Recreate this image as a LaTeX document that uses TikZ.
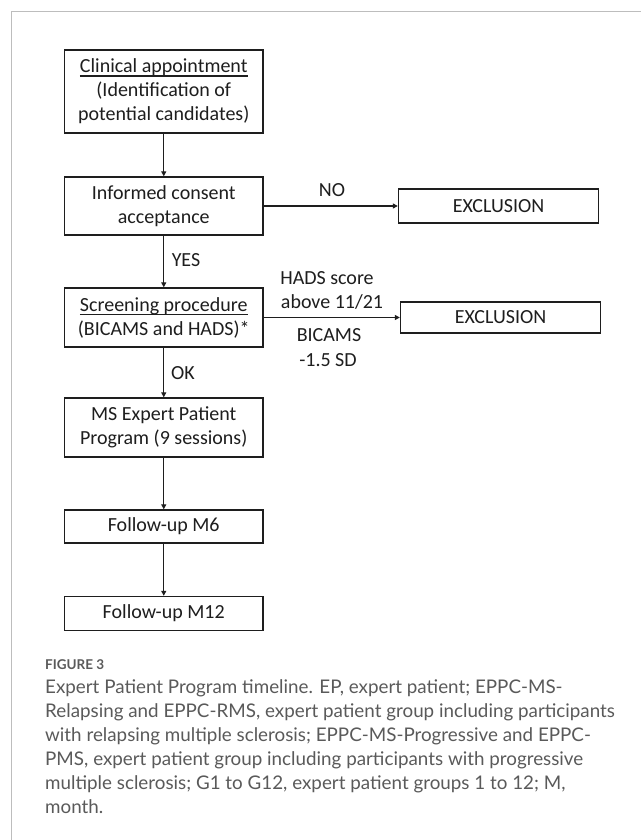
\documentclass[tikz,border=0pt]{standalone}
\usepackage{fontspec}
\setmainfont{Carlito}
\newfontfamily\capfont{Lato}
\usetikzlibrary{arrows.meta}
\definecolor{ink}{HTML}{1E1E1E}
\definecolor{capgray}{HTML}{5A5A5A}
\definecolor{framegray}{HTML}{BDBDBD}
\newcommand\thickul[1]{\setbox0\hbox{#1}\rlap{\raisebox{-4.2pt}{\rule{\wd0}{1.7pt}}}\box0}
\tikzset{
  flowbox/.style={draw=ink, line width=1.4pt, inner sep=0pt, minimum width=198.5pt, align=center, text=ink, font=\fontsize{20}{24}\selectfont},
  exbox/.style={draw=ink, line width=1.4pt, inner sep=0pt, minimum width=200pt, text=ink, font=\fontsize{20}{24}\selectfont},
  lbl/.style={inner sep=0pt, text=ink, align=center, font=\fontsize{20}{24}\selectfont},
  conn/.style={draw=ink, line width=1.2pt, -{Triangle[length=5pt,width=5pt]}},
  capline/.style={inner sep=0pt, anchor=base west, text=capgray, font=\capfont\fontsize{18.8}{24}\selectfont}
}
\begin{document}
\begin{tikzpicture}[x=1pt,y=-1pt]
\useasboundingbox (0,0) rectangle (641,840);
\fill[white] (0,0) rectangle (641,840);
\draw[framegray, line width=1pt] (11,840) -- (11,11.5) -- (641,11.5);
% boxes
\node[flowbox, minimum height=83pt] (b1) at (163.75,91.5) {\thickul{Clinical appointment}\\(Identification of\\potential candidates)};
\node[flowbox, minimum height=58pt] (b2) at (163.75,206) {Informed consent\\acceptance};
\node[exbox, minimum height=34pt] (e1) at (498.5,206) {EXCLUSION};
\node[flowbox, minimum height=59pt] (b3) at (163.75,317.5) {\thickul{Screening procedure}\\(BICAMS and HADS)*};
\node[exbox, minimum height=31pt] (e2) at (500.5,317.5) {EXCLUSION};
\node[flowbox, minimum height=59pt] (b4) at (163.75,427.5) {MS Expert Patient\\Program (9 sessions)};
\node[flowbox, minimum height=33pt] (b5) at (163.75,526.5) {Follow-up M6};
\node[flowbox, minimum height=34pt] (b6) at (163.75,613.5) {Follow-up M12};
% connectors
\draw[conn] (b1) -- (b2);
\draw[conn] (b2) -- (b3);
\draw[conn] (b3) -- (b4);
\draw[conn] (b4) -- (b5);
\draw[conn] (b5) -- (b6);
\draw[conn] (b2) -- (e1);
\draw[conn] (b3) -- (e2);
% labels
\node[lbl] (no) at (332,190) {NO};
\node[lbl] (yes) at (186,260) {YES};
\node[lbl] (ok) at (183,373) {OK};
\node[lbl] (hads1) at (327,278) {HADS score};
\node[lbl] (hads2) at (332,302) {above 11/21};
\node[lbl] (bic1) at (329,335) {BICAMS};
\node[lbl] (bic2) at (328,360) {-1.5 SD};
% caption
\node[inner sep=0pt, anchor=base west, text=capgray, font=\capfont\bfseries\fontsize{13.5}{16}\selectfont] (figlbl) at (45,669) {FIGURE 3};
\node[capline] (c1) at (45,693) {Expert Patient Program timeline. EP, expert patient; EPPC-MS-};
\node[capline] (c2) at (45,717) {Relapsing and EPPC-RMS, expert patient group including participants};
\node[capline] (c3) at (45,741) {with relapsing multiple sclerosis; EPPC-MS-Progressive and EPPC-};
\node[capline] (c4) at (45,765) {PMS, expert patient group including participants with progressive};
\node[capline] (c5) at (45,789) {multiple sclerosis; G1 to G12, expert patient groups 1 to 12; M,};
\node[capline] (c6) at (45,813) {month.};
\end{tikzpicture}
\end{document}
